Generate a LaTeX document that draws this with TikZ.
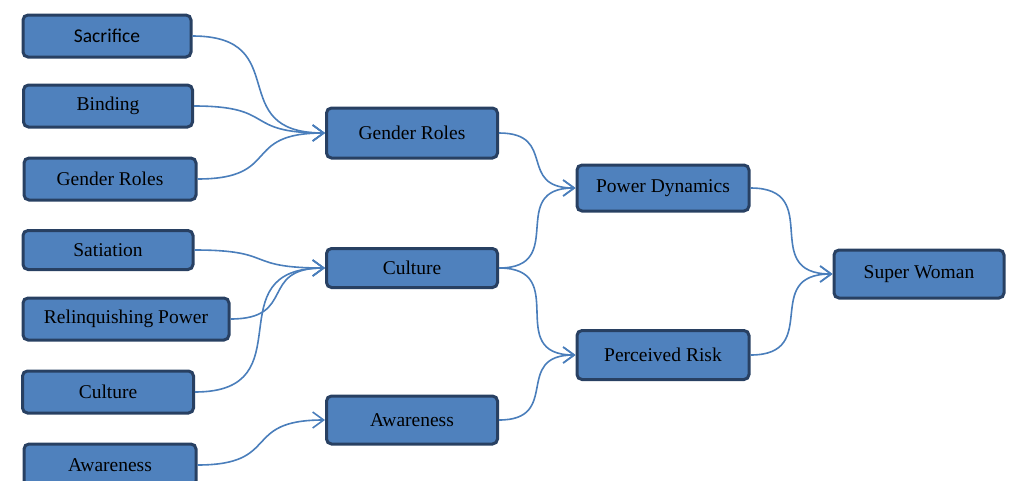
\documentclass[tikz,border=0pt]{standalone}
\usepackage{fontspec}
\setmainfont{Liberation Serif}
\newfontfamily\calibrilike{Carlito}
\usetikzlibrary{arrows.meta}

\definecolor{boxfill}{RGB}{79,129,189}
\definecolor{boxline}{RGB}{40,64,98}
\definecolor{linkblue}{RGB}{74,126,187}

\begin{document}
\begin{tikzpicture}[
    x=1pt, y=-1pt,
    factor/.style={draw=boxline, fill=boxfill, line width=3pt, rounded corners=5pt,
      minimum height=42pt, inner sep=0pt, align=center,
      font=\fontsize{19.5}{22}\selectfont},
    link/.style={linkblue, line width=1.6pt, out=0, in=180, looseness=1.6,
      -{Straight Barb[length=11pt, width=16pt, line width=1.6pt]}}
  ]
    \useasboundingbox (0,0) rectangle (1010,480);
    \clip (0,0) rectangle (1010,480);
    % left column
    \node[factor, minimum width=168pt, font=\calibrilike\fontsize{19.5}{22}\selectfont] (sacrifice) at (107,36) {Sacrifice};
    \node[factor, minimum width=169pt] (binding) at (108,106) {Binding};
    \node[factor, minimum width=172pt] (genderL) at (110,179) {Gender Roles};
    \node[factor, minimum width=170pt, minimum height=39pt] (satiation) at (108,250) {Satiation};
    \node[factor, minimum width=206pt] (relinquish) at (126,319) {Relinquishing Power};
    \node[factor, minimum width=171pt] (cultureL) at (108,392) {Culture};
    \node[factor, minimum width=172pt] (awareL) at (110,465) {Awareness};
    % middle column
    \node[factor, minimum width=171pt, minimum height=50pt] (genderM) at (412,133) {Gender Roles};
    \node[factor, minimum width=171pt, minimum height=39pt] (cultureM) at (412,268) {Culture};
    \node[factor, minimum width=171pt, minimum height=48pt] (awareM) at (412,420) {Awareness};
    % third column
    \node[factor, minimum width=172pt, minimum height=46pt] (power) at (663,188) {Power Dynamics};
    \node[factor, minimum width=172pt, minimum height=49pt] (risk) at (663,355) {Perceived Risk};
    \node[factor, minimum width=170pt, minimum height=48pt] (superwoman) at (919,274) {Super Woman};
    % links
    \draw[link] (sacrifice.east) to (genderM.west);
    \draw[link] (binding.east) to (genderM.west);
    \draw[link] (genderL.east) to (genderM.west);
    \draw[link] (satiation.east) to (cultureM.west);
    \draw[link] (relinquish.east) to (cultureM.west);
    \draw[link] (cultureL.east) to (cultureM.west);
    \draw[link] (awareL.east) to (awareM.west);
    \draw[link] (genderM.east) to (power.west);
    \draw[link] (cultureM.east) to (power.west);
    \draw[link] (cultureM.east) to (risk.west);
    \draw[link] (awareM.east) to (risk.west);
    \draw[link] (power.east) to (superwoman.west);
    \draw[link] (risk.east) to (superwoman.west);
\end{tikzpicture}
\end{document}
